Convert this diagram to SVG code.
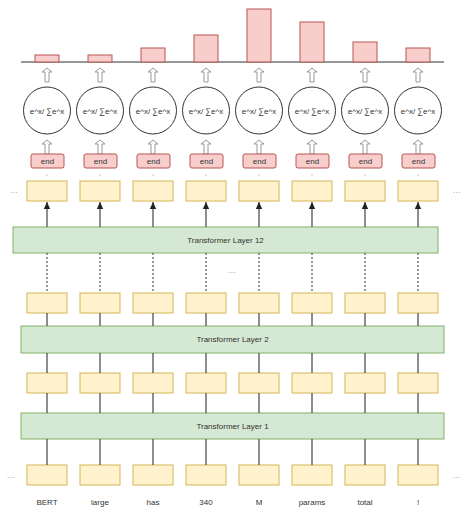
<svg xmlns="http://www.w3.org/2000/svg" width="472" height="512" viewBox="0 0 472 512">
<style>
text{font-family:"Liberation Sans",Arial,sans-serif;fill:#333;text-anchor:middle;dominant-baseline:central}
.tok{fill:#fff2cc;stroke:#d6b656;stroke-width:1}
.layer{fill:#d5e8d4;stroke:#82b366;stroke-width:1}
.end{fill:#f8cecc;stroke:#b85450;stroke-width:1}
.bar{fill:#f8cecc;stroke:#b85450;stroke-width:1}
.sm{fill:#fff;stroke:#333;stroke-width:1}
.ha{fill:#fff;stroke:#999;stroke-width:1}
.c{stroke:#444;stroke-width:1.2;fill:none}
.d{stroke:#555;stroke-width:1.2;fill:none;stroke-dasharray:2 2}
.t8{font-size:8px}
.el{font-size:8px;fill:#888;letter-spacing:0.5px}
</style>
<defs>
<marker id="ah" markerWidth="8" markerHeight="8" refX="7" refY="4" orient="auto" markerUnits="userSpaceOnUse">
<path d="M0,0.8 L7,4 L0,7.2 Z" fill="#222"/>
</marker>
<path id="harrow" d="M-2,14 L-2,4 L-5,4 L0,0 L5,4 L2,4 L2,14 Z"/>
</defs>

<g id="chart">
<line x1="21" y1="62" x2="444" y2="62" stroke="#333" stroke-width="1.2"/>
<rect class="bar" x="35" y="55" width="24" height="7"/>
<rect class="bar" x="88" y="55" width="24" height="7"/>
<rect class="bar" x="141" y="48" width="24" height="14"/>
<rect class="bar" x="194" y="35" width="24" height="27"/>
<rect class="bar" x="247" y="9" width="24" height="53"/>
<rect class="bar" x="300" y="22" width="24" height="40"/>
<rect class="bar" x="353" y="42" width="24" height="20"/>
<rect class="bar" x="406" y="48" width="24" height="14"/>
</g>

<g id="softmax-arrows">
<use href="#harrow" class="ha" x="47" y="68"/><use href="#harrow" class="ha" x="100" y="68"/><use href="#harrow" class="ha" x="153" y="68"/><use href="#harrow" class="ha" x="206" y="68"/><use href="#harrow" class="ha" x="259" y="68"/><use href="#harrow" class="ha" x="312" y="68"/><use href="#harrow" class="ha" x="365" y="68"/><use href="#harrow" class="ha" x="418" y="68"/>
<use href="#harrow" class="ha" x="47" y="140"/><use href="#harrow" class="ha" x="100" y="140"/><use href="#harrow" class="ha" x="153" y="140"/><use href="#harrow" class="ha" x="206" y="140"/><use href="#harrow" class="ha" x="259" y="140"/><use href="#harrow" class="ha" x="312" y="140"/><use href="#harrow" class="ha" x="365" y="140"/><use href="#harrow" class="ha" x="418" y="140"/>
</g>

<g id="softmax1"><circle class="sm" cx="47" cy="110.5" r="23.5"/><text class="t8" x="47" y="111">e^x/ ∑e^x</text></g>
<g id="softmax2"><circle class="sm" cx="100" cy="110.5" r="23.5"/><text class="t8" x="100" y="111">e^x/ ∑e^x</text></g>
<g id="softmax3"><circle class="sm" cx="153" cy="110.5" r="23.5"/><text class="t8" x="153" y="111">e^x/ ∑e^x</text></g>
<g id="softmax4"><circle class="sm" cx="206" cy="110.5" r="23.5"/><text class="t8" x="206" y="111">e^x/ ∑e^x</text></g>
<g id="softmax5"><circle class="sm" cx="259" cy="110.5" r="23.5"/><text class="t8" x="259" y="111">e^x/ ∑e^x</text></g>
<g id="softmax6"><circle class="sm" cx="312" cy="110.5" r="23.5"/><text class="t8" x="312" y="111">e^x/ ∑e^x</text></g>
<g id="softmax7"><circle class="sm" cx="365" cy="110.5" r="23.5"/><text class="t8" x="365" y="111">e^x/ ∑e^x</text></g>
<g id="softmax8"><circle class="sm" cx="418" cy="110.5" r="23.5"/><text class="t8" x="418" y="111">e^x/ ∑e^x</text></g>

<g id="end1"><rect class="end" x="31" y="154" width="33" height="14" rx="2"/><text class="t8" x="47.5" y="161">end</text></g>
<g id="end2"><rect class="end" x="84" y="154" width="33" height="14" rx="2"/><text class="t8" x="100.5" y="161">end</text></g>
<g id="end3"><rect class="end" x="137" y="154" width="33" height="14" rx="2"/><text class="t8" x="153.5" y="161">end</text></g>
<g id="end4"><rect class="end" x="190" y="154" width="33" height="14" rx="2"/><text class="t8" x="206.5" y="161">end</text></g>
<g id="end5"><rect class="end" x="243" y="154" width="33" height="14" rx="2"/><text class="t8" x="259.5" y="161">end</text></g>
<g id="end6"><rect class="end" x="296" y="154" width="33" height="14" rx="2"/><text class="t8" x="312.5" y="161">end</text></g>
<g id="end7"><rect class="end" x="349" y="154" width="33" height="14" rx="2"/><text class="t8" x="365.5" y="161">end</text></g>
<g id="end8"><rect class="end" x="402" y="154" width="33" height="14" rx="2"/><text class="t8" x="418.5" y="161">end</text></g>

<g id="dots-small" fill="#888">
<circle cx="47" cy="175" r="0.6"/><circle cx="100" cy="175" r="0.6"/><circle cx="153" cy="175" r="0.6"/><circle cx="206" cy="175" r="0.6"/><circle cx="259" cy="175" r="0.6"/><circle cx="312" cy="175" r="0.6"/><circle cx="365" cy="175" r="0.6"/><circle cx="418" cy="175" r="0.6"/>
</g>

<g id="out-row">
<rect class="tok" x="27" y="181" width="40" height="20"/><rect class="tok" x="80" y="181" width="40" height="20"/><rect class="tok" x="133" y="181" width="40" height="20"/><rect class="tok" x="186" y="181" width="40" height="20"/><rect class="tok" x="239" y="181" width="40" height="20"/><rect class="tok" x="292" y="181" width="40" height="20"/><rect class="tok" x="345" y="181" width="40" height="20"/><rect class="tok" x="398" y="181" width="40" height="20"/>
</g>
<g id="layer12"><rect class="layer" x="13" y="227" width="425" height="26"/><text class="t8" x="225.5" y="240">Transformer Layer 12</text></g>
<g id="row2">
<rect class="tok" x="27" y="293" width="40" height="20"/><rect class="tok" x="80" y="293" width="40" height="20"/><rect class="tok" x="133" y="293" width="40" height="20"/><rect class="tok" x="186" y="293" width="40" height="20"/><rect class="tok" x="239" y="293" width="40" height="20"/><rect class="tok" x="292" y="293" width="40" height="20"/><rect class="tok" x="345" y="293" width="40" height="20"/><rect class="tok" x="398" y="293" width="40" height="20"/>
</g>
<g id="layer2"><rect class="layer" x="21" y="326" width="423" height="27"/><text class="t8" x="232.5" y="339.5">Transformer Layer 2</text></g>
<g id="row3">
<rect class="tok" x="27" y="373" width="40" height="20"/><rect class="tok" x="80" y="373" width="40" height="20"/><rect class="tok" x="133" y="373" width="40" height="20"/><rect class="tok" x="186" y="373" width="40" height="20"/><rect class="tok" x="239" y="373" width="40" height="20"/><rect class="tok" x="292" y="373" width="40" height="20"/><rect class="tok" x="345" y="373" width="40" height="20"/><rect class="tok" x="398" y="373" width="40" height="20"/>
</g>
<g id="layer1"><rect class="layer" x="21" y="413" width="423" height="26"/><text class="t8" x="232.5" y="426">Transformer Layer 1</text></g>
<g id="input-row">
<rect class="tok" x="27" y="465" width="40" height="20"/><rect class="tok" x="80" y="465" width="40" height="20"/><rect class="tok" x="133" y="465" width="40" height="20"/><rect class="tok" x="186" y="465" width="40" height="20"/><rect class="tok" x="239" y="465" width="40" height="20"/><rect class="tok" x="292" y="465" width="40" height="20"/><rect class="tok" x="345" y="465" width="40" height="20"/><rect class="tok" x="398" y="465" width="40" height="20"/>
</g>

<g id="connectors">
<line class="c" x1="47" y1="227" x2="47" y2="202" marker-end="url(#ah)"/><line class="c" x1="100" y1="227" x2="100" y2="202" marker-end="url(#ah)"/><line class="c" x1="153" y1="227" x2="153" y2="202" marker-end="url(#ah)"/><line class="c" x1="206" y1="227" x2="206" y2="202" marker-end="url(#ah)"/><line class="c" x1="259" y1="227" x2="259" y2="202" marker-end="url(#ah)"/><line class="c" x1="312" y1="227" x2="312" y2="202" marker-end="url(#ah)"/><line class="c" x1="365" y1="227" x2="365" y2="202" marker-end="url(#ah)"/><line class="c" x1="418" y1="227" x2="418" y2="202" marker-end="url(#ah)"/>
<line class="d" x1="47" y1="253" x2="47" y2="293"/><line class="d" x1="100" y1="253" x2="100" y2="293"/><line class="d" x1="153" y1="253" x2="153" y2="293"/><line class="d" x1="206" y1="253" x2="206" y2="293"/><line class="d" x1="259" y1="253" x2="259" y2="293"/><line class="d" x1="312" y1="253" x2="312" y2="293"/><line class="d" x1="365" y1="253" x2="365" y2="293"/><line class="d" x1="418" y1="253" x2="418" y2="293"/>
<path class="c" d="M47,313V326M100,313V326M153,313V326M206,313V326M259,313V326M312,313V326M365,313V326M418,313V326"/>
<path class="c" d="M47,353V373M100,353V373M153,353V373M206,353V373M259,353V373M312,353V373M365,353V373M418,353V373"/>
<path class="c" d="M47,393V413M100,393V413M153,393V413M206,393V413M259,393V413M312,393V413M365,393V413M418,393V413"/>
<path class="c" d="M47,439V465M100,439V465M153,439V465M206,439V465M259,439V465M312,439V465M365,439V465M418,439V465"/>
</g>

<g id="ellipses">
<text class="el" x="14" y="190">...</text>
<text class="el" x="457" y="190">...</text>
<text class="el" x="232" y="270">...</text>
<text class="el" x="11" y="475">...</text>
<text class="el" x="457" y="475">...</text>
</g>

<g id="words">
<text class="t8" x="47" y="502">BERT</text>
<text class="t8" x="100" y="502">large</text>
<text class="t8" x="153" y="502">has</text>
<text class="t8" x="206" y="502">340</text>
<text class="t8" x="259" y="502">M</text>
<text class="t8" x="312" y="502">params</text>
<text class="t8" x="365" y="502">total</text>
<text class="t8" x="418" y="502">!</text>
</g>
</svg>
